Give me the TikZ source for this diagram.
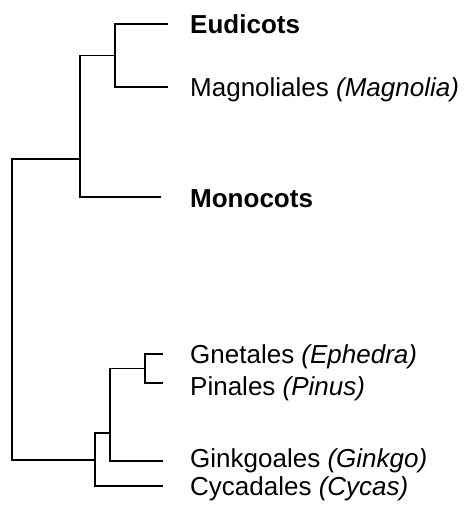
\documentclass[tikz,border=0pt]{standalone}
\usepackage{fontspec}
\setmainfont{Liberation Sans}
\begin{document}
\begin{tikzpicture}[x=1pt,y=-1pt,
  branch/.style={line width=1.1pt,black},
  taxon/.style={anchor=base west,inner sep=0pt,font=\fontsize{26}{30}\selectfont}]
\useasboundingbox (0,0) rectangle (469,506);
% internal nodes
\coordinate (R) at (12,300);
\coordinate (B) at (80,159);
\coordinate (A) at (115,55.5);
\coordinate (G) at (95,460);
\coordinate (H) at (110,433);
\coordinate (I) at (145,368.5);
% leaf tips
\coordinate (eudtip) at (168,24);
\coordinate (magtip) at (168,87);
\coordinate (montip) at (161,197);
\coordinate (gnetip) at (163,354);
\coordinate (pintip) at (163,383);
\coordinate (ginktip) at (163,461);
\coordinate (cyctip) at (163,486);
% labels
\node[taxon] (eud) at (190,33) {\textbf{Eudicots}};
\node[taxon] (mag) at (190,96) {Magnoliales \textit{(Magnolia)}};
\node[taxon] (mon) at (190,207) {\textbf{Monocots}};
\node[taxon] (gne) at (190,363) {Gnetales \textit{(Ephedra)}};
\node[taxon] (pin) at (190,395) {Pinales \textit{(Pinus)}};
\node[taxon] (gink) at (190,467) {Ginkgoales \textit{(Ginkgo)}};
\node[taxon] (cyc) at (190,495) {Cycadales \textit{(Cycas)}};
% branches
\draw[branch] (B) -| (R) |- (G);
\draw[branch] (A) -| (B) |- (montip);
\draw[branch] (eudtip) -| (A) |- (magtip);
\draw[branch] (H) -| (G) |- (cyctip);
\draw[branch] (I) -| (H) |- (ginktip);
\draw[branch] (gnetip) -| (I) |- (pintip);
\end{tikzpicture}
\end{document}
